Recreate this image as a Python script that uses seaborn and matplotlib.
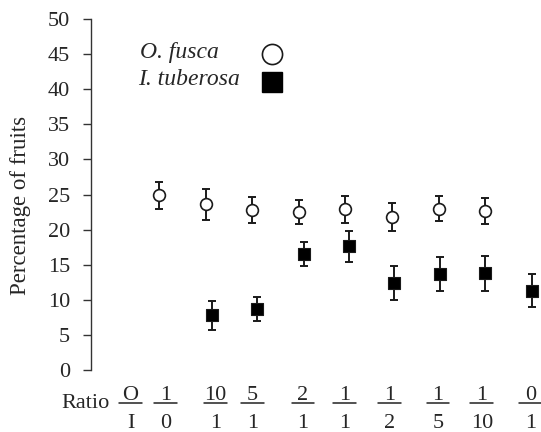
import matplotlib
matplotlib.use("Agg")
import matplotlib.pyplot as plt
import matplotlib.transforms as mtransforms
import seaborn as sns
import numpy as np
import pandas as pd

# ---- data ----
ratio_num = ["1", "10", "5", "2", "1", "1", "1", "1", "0"]
ratio_den = ["0", "1", "1", "1", "1", "2", "5", "10", "1"]
fusca_mean = [24.9, 23.6, 22.8, 22.5, 22.9, 21.8, 23.0, 22.7]
fusca_err = [1.9, 2.2, 1.8, 1.75, 1.9, 2.0, 1.8, 1.85]
tuberosa_mean = [7.8, 8.7, 16.5, 17.6, 12.4, 13.7, 13.8, 11.3]
tuberosa_err = [2.05, 1.7, 1.7, 2.2, 2.4, 2.45, 2.5, 2.35]
yticks = [0, 5, 10, 15, 20, 25, 30, 35, 40, 45, 50]

# ---- layout helpers (positions only) ----
tub_offset = [0.13, 0.10, 0.11, 0.08, 0.04, 0.03, 0.0, 0.0]
label_shift = [0.14, 0.21, 0.01, 0.09, -0.02, -0.05, -0.01, -0.07, -0.03]

sns.set_style("white")
plt.rcParams["font.family"] = ["Liberation Serif", "DejaVu Serif"]

fig = plt.figure(figsize=(5.41, 4.32), dpi=100)
ax = fig.add_axes([91 / 541, 1 - 370 / 432, 1 - 91 / 541, (370 - 19) / 432])

cats = np.arange(len(ratio_num))
fx = cats[:8].astype(float)
tx = cats[1:] + np.array(tub_offset)

df_f = pd.DataFrame({"x": fx, "y": fusca_mean})
df_t = pd.DataFrame({"x": tx, "y": tuberosa_mean})

ecol = "#1a1a1a"
ax.errorbar(fx, fusca_mean, yerr=fusca_err, fmt="none", ecolor=ecol,
            elinewidth=1.4, capsize=3.2, capthick=1.4, zorder=2)
ax.errorbar(tx, tuberosa_mean, yerr=tuberosa_err, fmt="none", ecolor=ecol,
            elinewidth=1.4, capsize=3.2, capthick=1.4, zorder=2)
sns.scatterplot(data=df_f, x="x", y="y", ax=ax, marker="o", s=72,
                facecolor="white", edgecolor=ecol, linewidth=1.2, zorder=3)
sns.scatterplot(data=df_t, x="x", y="y", ax=ax, marker="s", s=85,
                color="black", edgecolor=ecol, linewidth=0.8, zorder=3)

ax.set_xlim(-1.46, 8.2)
ax.set_ylim(0, 50)
ax.set_yticks(yticks)
ax.set_yticklabels([str(v) for v in yticks], fontsize=16)
ax.set_xticks([])
ax.set_xlabel("")
ax.set_ylabel("Percentage of fruits", fontsize=16.5)
ax.yaxis.set_label_coords(-0.133, 0.47)

for s in ["top", "right", "bottom"]:
    ax.spines[s].set_visible(False)
ax.spines["left"].set_color("#333333")
ax.spines["left"].set_linewidth(1.0)
ax.tick_params(axis="y", direction="out", length=6, width=1.0, color="#333333",
               left=True, pad=9)

# ratio fractions
trans = mtransforms.blended_transform_factory(ax.transData, ax.transAxes)
fs = 16
def frac(x, num, den):
    ax.text(x, -0.0855, num, transform=trans, ha="center", va="baseline", fontsize=fs, clip_on=False)
    ax.text(x, -0.165, den, transform=trans, ha="center", va="baseline", fontsize=fs, clip_on=False)
    ax.plot([x - 0.245, x + 0.245], [-0.094, -0.094], transform=trans, color="#222222",
            lw=1.1, clip_on=False)

frac(-0.61, "O", "I")
for i in cats:
    frac(i + label_shift[i], ratio_num[i], ratio_den[i])
ax.text(-1.06, -0.108, "Ratio", transform=trans, ha="right", va="baseline", fontsize=fs,
        clip_on=False)

# legend (manual, text left-aligned with keys on the right)
ax.text(0.109, 0.889, "O. fusca", transform=ax.transAxes, fontsize=17, style="italic",
        ha="left", va="baseline")
ax.text(0.104, 0.812, "I. tuberosa", transform=ax.transAxes, fontsize=17, style="italic",
        ha="left", va="baseline")
ax.plot([0.402], [0.900], transform=ax.transAxes, marker="o", markersize=14.5,
        markerfacecolor="white", markeredgecolor=ecol, markeredgewidth=1.2,
        linestyle="none", clip_on=False)
ax.plot([0.402], [0.8205], transform=ax.transAxes, marker="s", markersize=14.5,
        markerfacecolor="black", markeredgecolor="black", linestyle="none", clip_on=False)

fig.savefig("out.png", dpi=100)
